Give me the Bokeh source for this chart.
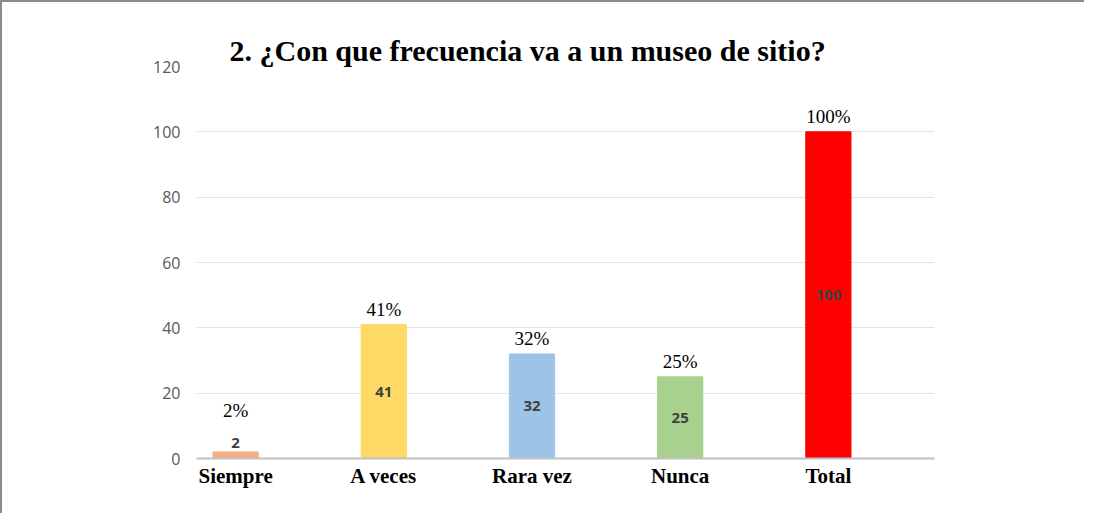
from bokeh.plotting import figure
from bokeh.models import Range1d, FixedTicker, ColumnDataSource
from bokeh.core.properties import value
from bokeh.embed import file_html
from bokeh.resources import INLINE

categories = ["Siempre", "A veces", "Rara vez", "Nunca", "Total"]
counts = [2, 41, 32, 25, 100]
percent_labels = ["2%", "41%", "32%", "25%", "100%"]
colors = ["#F4B183", "#FFD966", "#9DC3E6", "#A9D18E", "#FF0000"]
y_ticks = [0, 20, 40, 60, 80, 100, 120]
title_text = "2. ¿Con que frecuencia va a un museo de sitio?"

xs = list(range(len(categories)))
inner_y = [c / 2 if c > 5 else c for c in counts]
inner_off = [0 if c > 5 else -4 for c in counts]
inner_base = ["middle" if c > 5 else "bottom" for c in counts]
pct_y = [max(c, 10) for c in counts]

src = ColumnDataSource(dict(x=xs, top=counts, color=colors, iy=inner_y, ioff=inner_off,
                            ibase=inner_base, lab=[str(c) for c in counts],
                            py=pct_y, pl=percent_labels))

p = figure(width=1084, height=513, output_backend="svg", toolbar_location=None,
           x_range=Range1d(-0.264, 4.716), y_range=Range1d(0, 120),
           min_border_left=194, min_border_right=152, min_border_top=64, min_border_bottom=57,
           title=title_text)
p.styles = {"border-left": "2px solid #8c8c8c", "border-top": "2px solid #8c8c8c"}
p.outline_line_color = None
p.xgrid.grid_line_color = None
p.ygrid.grid_line_color = "#e3e3e3"
p.ygrid.grid_line_width = 1

p.title.align = "left"
p.title.offset = 33
p.title.text_font = "Liberation Serif"
p.title.text_font_style = "bold"
p.title.text_font_size = "30px"
p.title.text_color = "#000000"
p.title.standoff = 0

p.vbar(x="x", top="top", bottom=0, width=0.305, color="color", source=src)

p.text(x="x", y="iy", text="lab", y_offset="ioff", text_align="center", text_baseline="ibase",
       text_font=value("Open Sans"), text_font_style="bold", text_font_size="15px",
       text_color="#404040", source=src)
p.text(x="x", y="py", text="pl", y_offset=-5, text_align="center", text_baseline="bottom",
       text_font=value("Liberation Serif"), text_font_size="19px", text_color="#000000",
       source=src)

p.yaxis.ticker = FixedTicker(ticks=y_ticks)
p.yaxis.axis_line_color = None
p.yaxis.major_tick_line_color = None
p.yaxis.minor_tick_line_color = None
p.yaxis.major_label_text_font = "Open Sans"
p.yaxis.major_label_text_font_size = "16px"
p.yaxis.major_label_text_color = "#595959"
p.yaxis.major_label_standoff = 10

p.xaxis.ticker = FixedTicker(ticks=xs)
p.xaxis.major_label_overrides = {i: c for i, c in zip(xs, categories)}
p.xaxis.axis_line_color = "#c0c0c0"
p.xaxis.axis_line_width = 2
p.xaxis.major_tick_line_color = None
p.xaxis.minor_tick_line_color = None
p.xaxis.major_label_text_font = "Liberation Serif"
p.xaxis.major_label_text_font_style = "bold"
p.xaxis.major_label_text_font_size = "21px"
p.xaxis.major_label_text_color = "#000000"
p.xaxis.major_label_standoff = -1

open("out.html", "w").write(file_html(p, INLINE))
